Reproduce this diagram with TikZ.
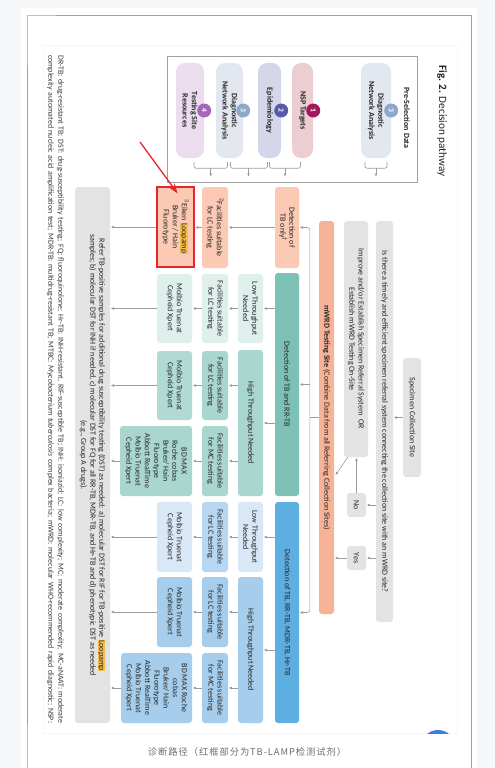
\documentclass[tikz,border=0pt]{standalone}
\usepackage{fontspec}
\setmainfont{Carlito}
\newfontfamily\cjkfont[LetterSpace=10]{Noto Sans CJK SC}
\usetikzlibrary{arrows.meta,calc}
\definecolor{pagebg}{HTML}{F6F7F9}
\definecolor{lineblue}{HTML}{7FA6DA}
\definecolor{lineorange}{HTML}{F2B27A}
\definecolor{txt}{HTML}{262626}
\definecolor{lgray}{HTML}{9C9C9C}
\definecolor{boxgray}{HTML}{A0A0A0}
\definecolor{gboxc}{HTML}{E3E3E3}
\definecolor{salmon}{HTML}{F7B398}
\definecolor{salmonl}{HTML}{FCC9B5}
\definecolor{tealD}{HTML}{7DC0B5}
\definecolor{tealM}{HTML}{AAD6D0}
\definecolor{tealR}{HTML}{B2DAD5}
\definecolor{tealL}{HTML}{DEEFEC}
\definecolor{blueD}{HTML}{5CAFE0}
\definecolor{blueM}{HTML}{A6CEEC}
\definecolor{blueF}{HTML}{B7D6F2}
\definecolor{blueL}{HTML}{D9E8F6}
\definecolor{pillgray}{HTML}{E3E8F0}
\definecolor{pillpink}{HTML}{EBCDD2}
\definecolor{pilllav}{HTML}{D6D6EB}
\definecolor{pillpur}{HTML}{EBDCEE}
\definecolor{numgray}{HTML}{8EA8CB}
\definecolor{nummag}{HTML}{A2185B}
\definecolor{numblue}{HTML}{575AA8}
\definecolor{numpur}{HTML}{A667B8}
\definecolor{redc}{HTML}{E8262A}
\definecolor{hlcol}{HTML}{F5BC4A}
\definecolor{capgray}{HTML}{6E6E6E}
\definecolor{uiblue}{HTML}{3D7BE0}
\definecolor{footc}{HTML}{3A3A3A}
\newcommand\mkbox[7]{\node[bx,#6,minimum width={(#5)-(#4)},minimum height={(#3)-(#2)}] (#1) at ({((#2)+(#3))/2},{((#4)+(#5))/2}) {#7};}
\newcommand\hlt[1]{{\setlength{\fboxsep}{0.5pt}\colorbox{hlcol}{#1}}}
\begin{document}
\begin{tikzpicture}[x=1pt,y=-1pt,
  bx/.style={rotate=-90, rounded corners=3pt, inner sep=1pt, align=center, font=\fontsize{8}{9.2}\selectfont, text=txt},
  gbx/.style={fill=gboxc},
  pill/.style={rounded corners=9pt, font=\bfseries\fontsize{8}{9.2}\selectfont},
  numc/.style={circle, rotate=-90, minimum size=14pt, inner sep=0pt, text=white, font=\bfseries\fontsize{7.5}{8}\selectfont},
  ln/.style={draw=lgray, line width=0.6pt},
  arr/.style={ln, -{Latex[length=3.2pt,width=2.8pt]}, shorten >=0.5pt},
  brk/.style={draw=lgray, line width=0.6pt, rounded corners=2pt}]
\useasboundingbox (0,0) rectangle (495,768);
% page and card
\fill[pagebg] (0,0) rectangle (495,768);
\fill[white] (21,8) rectangle (477,768);
\draw[lineblue, line width=0.8pt] (56,15) -- (471,15) -- (471,768);
\draw[lineorange, line width=0.8pt] (27,65) -- (27,15) -- (56,15);
\draw[lineblue, line width=0.8pt] (27,65) -- (27,725);
\draw[lineorange, line width=0.8pt] (27,725) -- (27,768);
\filldraw[fill=white, draw=pagebg, line width=0.8pt] (43,45) rectangle (457,733);
\begin{scope}
\clip (43,45) rectangle (457,733);
\fill[uiblue] (438,747) circle (17);
\end{scope}
% caption
\node[font=\cjkfont\fontsize{9.3}{11}\selectfont, text=capgray] (CAP) at (247,752) {诊断路径（红框部分为TB-LAMP检测试剂）};
% title
\node[rotate=-90, anchor=west, inner sep=0pt, font=\fontsize{11.2}{13}\selectfont, text=txt] (TT) at (442,65) {\textbf{Fig. 2.} Decision pathway};
% pre-selection frame
\node[draw=boxgray, line width=0.7pt, minimum width=250pt, minimum height=126pt, inner sep=0pt] (PRE) at (292,119) {};
\node[rotate=-90, inner sep=0pt, font=\bfseries\fontsize{8}{9}\selectfont, text=txt] (PSD) at (407,118) {Pre-Selection Data};
\mkbox{P0}{361}{391}{63}{158}{pill, fill=pillgray}{Diagnostic\\Network Analysis}
\mkbox{P1}{292}{313}{63}{158}{pill, fill=pillpink}{NSP Targets}
\mkbox{P2}{258}{281}{63}{158}{pill, fill=pilllav}{Epidemiology}
\mkbox{P3}{216}{243}{63}{158}{pill, fill=pillgray}{Diagnostic\\Network Analysis}
\mkbox{P4}{176}{204}{63}{158}{pill, fill=pillpur}{Testing Site\\Resources}
\node[numc, fill=numgray] (N0) at (P0.north) {3};
\node[numc, fill=nummag] (N1) at (P1.north) {1};
\node[numc, fill=numblue] (N2) at (P2.north) {2};
\node[numc, fill=numgray] (N3) at (P3.north) {3};
\node[numc, fill=numpur] (N4) at (P4.north) {4};
% brackets
\draw[brk] ($(P0.east)+(-11,4)$) -- ++(0,6) -- ++(22,0) -- ++(0,-6);
\draw[arr] ($(P0.east)+(0,10)$) -- ++(0,9);
\draw[brk] ($(P4.east)+(4,4)$) -- ++(0,6) -| ($(P3.east)+(-2,4)$);
\draw[arr] ($(P4.east)!0.5!(P3.east)+(1,10)$) -- ++(0,9);
\draw[brk] ($(P3.east)+(1,4)$) -- ++(0,6) -| ($(P2.east)+(-2,4)$);
\draw[arr] ($(P3.east)!0.5!(P2.east)+(-1,10)$) -- ++(0,9);
\draw[brk] ($(P2.east)+(0,4)$) -- ++(0,6) -| ($(P1.east)+(-2,4)$);
\draw[arr] ($(P2.east)!0.5!(P1.east)+(-1,10)$) -- ++(0,9);
% top decision part
\mkbox{SC}{403}{421}{358}{477}{gbx}{Specimen Collection Site}
\mkbox{Q}{376}{393}{221}{622}{gbx}{Is there a timely and efficient specimen referral system connecting the collection site with an mWRD site?}
\mkbox{IMP}{344}{368}{221}{457}{gbx}{Improve and/or Establish Specimen Referral System\ \ OR\\Establish mWRD Testing On-Site}
\mkbox{NO}{347}{366}{493}{517}{gbx}{No}
\mkbox{YES}{347}{366}{546}{570}{gbx}{Yes}
\mkbox{MW}{319}{334}{221}{614}{fill=salmon}{\textbf{mWRD Testing Site} (Combine Data from all Referring Collection Sites)}
% detection column
\mkbox{D1}{275}{299}{187}{268}{fill=salmonl}{Detection of\\TB only\textsuperscript{†}}
\mkbox{D2}{275}{299}{273}{496}{fill=tealD}{Detection of TB and RR-TB}
\mkbox{D3}{275}{299}{502}{723}{fill=blueD}{Detection of TB, RR-TB, MDR-TB, Hr-TB}
% throughput column
\mkbox{T1}{238}{263}{274}{343}{fill=tealL}{Low Throughput\\Needed}
\mkbox{T2}{238}{263}{350}{496}{fill=tealM}{High Throughput Needed}
\mkbox{T3}{238}{263}{502}{572}{fill=blueL}{Low Throughput\\Needed}
\mkbox{T4}{238}{263}{577}{723}{fill=blueM}{High Throughput Needed}
% facilities column
\mkbox{F0}{202}{228}{187}{268}{fill=salmonl}{\textsuperscript{2}Facilities suitable\\for LC testing}
\mkbox{F1}{202}{228}{274}{343}{fill=tealL}{Facilities suitable\\for LC testing}
\mkbox{F2}{202}{228}{351}{420}{fill=tealM}{Facilities suitable\\for LC testing}
\mkbox{F3}{202}{228}{426}{496}{fill=tealM}{Facilities suitable\\for MC testing}
\mkbox{F4}{202}{228}{502}{572}{fill=blueF}{Facilities suitable\\for LC testing}
\mkbox{F5}{202}{228}{577}{647}{fill=blueM}{Facilities suitable\\for LC testing}
\mkbox{F6}{202}{228}{653}{723}{fill=blueM}{Facilities suitable\\for MC testing}
% results column
\mkbox{R0}{157}{194}{187}{267}{fill=salmonl, draw=redc, line width=1.2pt, sharp corners}{\textsuperscript{3}Eiken \hlt{Loopamp}\\Bruker / Hain\\Fluorotype}
\mkbox{R1}{157}{192}{274}{343}{fill=tealL}{Molbio Truenat\\Cepheid Xpert}
\mkbox{R2}{157}{192}{351}{420}{fill=tealR}{Molbio Truenat\\Cepheid Xpert}
\mkbox{R3}{120}{192}{426}{496}{fill=tealM}{BD MAX\\Roche cobas\\Bruker/ Hain\\Fluorotype\\Abbott RealTime\\Molbio Truenat\\Cepheid Xpert}
\mkbox{R4}{157}{192}{502}{572}{fill=blueL}{Molbio Truenat\\Cepheid Xpert}
\mkbox{R5}{157}{192}{577}{647}{fill=blueM}{Molbio Truenat\\Cepheid Xpert}
\mkbox{R6}{121}{192}{653}{723}{fill=blueM}{BD MAX Roche\\cobas\\Bruker/ Hain\\Fluorotype\\Abbott RealTime\\Molbio Truenat\\Cepheid Xpert}
% refer box
\mkbox{G}{75}{110}{187}{723}{gbx}{Refer TB-positive samples for additional drug susceptibility testing (DST) as needed: a) molecular DST for RIF for TB-positive \hlt{Loopamp}\\samples; b) molecular DST for INH if needed, c) molecular DST for FQ for all RR-TB, MDR-TB, and Hr-TB and d) phenotypic DST as needed\\(e.g., Group A drugs).}
% footnote
\node[rotate=-90, anchor=north west, inner sep=0pt, align=left, font=\fontsize{7.9}{10}\selectfont, text=footc] (FN) at (64,55) {\makebox[668pt][s]{DR-TB: drug-resistant TB; DST: drug-susceptibility testing; FQ: fluoroquinolone; Hr-TB: INH-resistant, RIF-susceptible TB; INH: isoniazid; LC: low complexity; MC: moderate complexity; MC-aNAAT: moderate}\\\makebox[668pt][s]{complexity automated nucleic acid amplification test; MDR-TB: multidrug-resistant TB; MTBC: \textit{Mycobacterium tuberculosis} complex bacteria; mWRD: molecular WHO-recommended rapid diagnostic; NSP:}};
% connectors: decision part
\draw[arr] (SC.south) -- (SC.south -| Q.north);
\draw[arr] (Q.south |- NO) -- (NO);
\draw[arr] (Q.south |- YES) -- (YES);
\draw[arr] (NO.west) -- (NO.west |- IMP.east);
\draw[arr] ([xshift=4pt]IMP.south east) -- ([xshift=1pt,yshift=-58pt]MW.north);
\draw[arr] (YES) -- (YES -| MW.north);
\coordinate (bus) at ($(MW.south)+(-9,0)$);
\draw[ln] (MW.south) -- (bus);
\draw[arr, rounded corners=2.5pt] (bus) |- (D1.north);
\draw[arr, rounded corners=2.5pt] (bus) |- (D3.north);
\draw[arr] (bus |- D2) -- (D2.north);
% detection -> throughput/facilities
\draw[arr] (D1) -- (F0);
\draw[arr] (D2.south |- T1) -- (T1);
\draw[arr] (D2.south |- T2) -- (T2);
\draw[arr] (D3.south |- T3) -- (T3);
\draw[arr] (D3.south |- T4) -- (T4);
% throughput -> facilities
\draw[arr] (T1) -- (F1);
\draw[arr] (T2.south |- F2) -- (F2);
\draw[arr] (T2.south |- F3) -- (F3);
\draw[arr] (T3) -- (F4);
\draw[arr] (T4.south |- F5) -- (F5);
\draw[arr] (T4.south |- F6) -- (F6);
% facilities -> results
\draw[arr] (F0.south) -- (F0.south -| R0.north);
\draw[arr] (F1) -- (R1);
\draw[arr] (F2) -- (R2);
\draw[arr] (F3) -- (R3);
\draw[arr] (F4) -- (R4);
\draw[arr] (F5) -- (R5);
\draw[arr] (F6) -- (R6);
% results -> refer
\foreach \r in {R0,R1,R2,R3,R4,R5,R6}{\draw[arr] (\r.south) -- (\r.south -| G.north);}
% red annotation arrow
\coordinate (ra) at (140,142);
\draw[redc, line width=1.3pt, -{Stealth[length=10pt,width=7pt]}] (ra) -- ([xshift=-17pt,yshift=-7pt]R0.north west);
\end{tikzpicture}
\end{document}
